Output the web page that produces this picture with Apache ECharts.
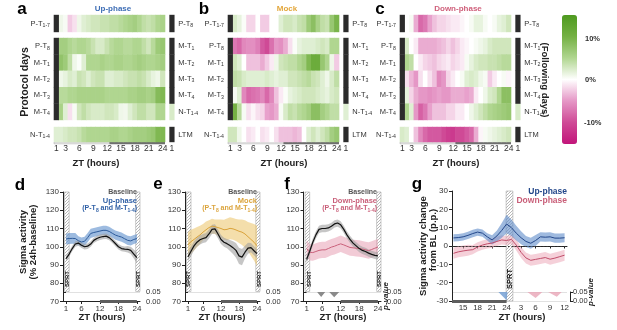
<!DOCTYPE html>
<html>
<head>
<meta charset="utf-8">
<script src="https://cdn.jsdelivr.net/npm/echarts@6.0.0/dist/echarts.min.js"></script>
<style>
  html, body { margin: 0; padding: 0; background: #fff; }
  #chart { width: 617px; height: 330px; }
</style>
</head>
<body>
<div id="chart"></div>
<script>
const FONT = '"Liberation Sans", Arial, sans-serif';

// ---------- heatmaps a-c : sigma change vs baseline (%) ----------
// null = SPRT hour (black cell)
const hmHours = ['1','2','3','4','5','6','7','8','9','10','11','12','13','14','15','16','17','18','19','20','21','22','23','24','','1'];
const hmTickIdx = [0, 2, 5, 8, 11, 14, 17, 20, 23, 25];
const rowLabels = ['P-T{s|1-7}', 'P-T{s|8}', 'M-T{s|1}', 'M-T{s|2}', 'M-T{s|3}', 'M-T{s|4}', 'N-T{s|1-4}'];
const nextLabels = ['P-T{s|8}', 'M-T{s|1}', 'M-T{s|2}', 'M-T{s|3}', 'M-T{s|4}', 'N-T{s|1-4}', 'LTM'];

const upPhase = [
  [null, 1, 0.5, -2.5, -1.5, 1, 2, 2.5, 3, 3, 3.5, 3.5, 4, 4, 4.5, 5, 5.5, 6, 5, 4, 3.5, 4, 5, 5.5],
  [null, 6, 6, 5, 4.5, 5, 5, 4.5, 3.5, 2.5, 2.5, 3.5, 4.5, 5, 5, 4.5, 4.5, 5, 5, 4, 3, 4.5, 6.5, 7],
  [null, 7.5, 6.5, 4, 1, 0.3, 2, 5, 5, 5, 5.5, 5, 5, 5.5, 5.5, 5, 5, 5.5, 6, 5.5, 5, 5, 5.5, 6],
  [null, 1, 1.5, 2.5, 2, 3.5, 3, 2, 3, 3.5, 3.5, 2, 2, 2.5, 2.5, 3, 3.5, 3.5, 4, 3.5, 2.5, 1.5, 1, 3],
  [null, 4.5, 4.5, 5, 5, 5.5, 5.5, 5.5, 5.5, 5.5, 5.5, 5, 5, 5, 5, 5, 5.5, 5.5, 6, 6, 5.5, 6, 8.5, 9],
  [null, 5.5, 2, -1.5, 0.5, 3, 4, 3, 2.5, 2.5, 2.5, 3, 3, 2.5, 1, 0.8, 2, 3, 4, 4, 3, 3, 5, 5],
  [2, 2, 2.5, 3, 3, 3.5, 4.5, 5, 5, 5, 5, 5, 5.5, 5.5, 5, 5, 5.5, 6, 6, 6, 6.5, 7, 9, 9]
];
const mockPhase = [
  [null, 2.5, 1.5, 0.3, -2, -2, 0, -2.5, -2.5, 0, 0, 2, 3, 3, 2.5, 3.5, 4, 6.5, 8, 5.5, 4, 3.5, 7, 9.5],
  [null, -7, -8, -6, -5.5, -5.5, -6.5, -9, -10, -7.5, -5, -5.5, -4, -1.5, 0.3, 1.5, 2, 2, 2, 2.5, 3, 2.5, 5, 5],
  [null, 3, 2, 0, -3, -3, -3, -4, -2.5, -1, 1, 3, 3.5, 4, 4, 5, 6, 9, 11, 11, 7, 5, 1, -2.5],
  [null, 4, 3.5, 2.5, 2, 2, 2, 2, 2.5, 2, 1.5, 2, 2, 3, 3, 3.5, 4, 4.5, 3.5, 3, 2, 1, 2.5, 4],
  [null, 0.5, 2, -6, -8, -7.5, -7, -6, -8, -6, -3, -1, 0.3, 1.5, 2, 2.5, 3, 3, 3, 2.5, 2, 1.5, 2.5, 3],
  [null, 10, 4.5, 0.5, -1.5, -0.5, -1.5, -2, -4.5, -5, -4, 0.5, 2.5, 4, 3.5, 4.5, 5, 6, 8, 8, 6, 5, 4, 4],
  [3, 3, 1, 0, -1.5, -1, 0, -1.5, -1, 0, -1.5, -3, -3, -3, -3.5, -3, 0, 2, 3, 2, 3, 4, 6, 7]
];
const downPhase = [
  [null, 0, 0.5, -4, -8, -7, -4.5, -3, -2, -2, -1.5, -1, -1, -0.5, 0, 0.5, 1.5, 1.5, 0.5, 0, 0.5, 1.5, 2, 3],
  [null, 2.5, 0, -1, -4, -4, -4, -4, -3.5, -3, -2, -3, -2, -1, -0.5, 0, 0.5, 1, 1.5, 2.5, 3, 3, 3, 3],
  [null, 5, 4, 0, -1, -2, -2.5, -3, -2, -1.5, -1, -2, -1.5, -1, 0.5, 1.5, 2.5, 3, 3, 3.5, 3.5, 4, 4.5, 4.5],
  [null, -1.5, -3.5, -5, -1.5, 0, -1.5, -3, -6, -5, -2, -1, 0, 0.5, 2, 2.5, 2, 1, 0.5, -2.5, -1, 0, 0.5, -0.5],
  [null, 1.5, -2, -4, -5, -5, -5.5, -5, -4.5, -5, -5, -4, -4, -4, -4.5, -4, -1, 0, 1, 2.5, 3, 5, 8, 8],
  [null, 5, 2, -5, -8.5, -7, -4.5, -3, -3, -3, -2, -2, -1, -1, 0, 1, 2, 3, 4, 5, 5.5, 6, 6.5, 7],
  [2.5, 2, 0, -3, -6, -8, -9, -9, -9, -10, -11, -11.5, -10, -10, -9, -8, -4, -0.5, 0.5, 1, 1.5, 2, 2.5, 3]
];
// hour 1 of the following day
const upNext = [null, null, null, null, null, 2.5, null];
const mockNext = [null, null, null, null, null, 2, null];
const downNext = [null, null, null, null, null, 2.5, null];

// ---------- line panels d-g ----------
const ztLine = [1, 2, 3, 4, 5, 6, 7, 8, 9, 10, 11, 12, 13, 14, 15, 16, 17, 18, 19, 20, 21, 22, 23, 24];
const baseD = [93.5, 96, 99, 101.5, 102, 100.8, 100, 100.3, 101.5, 103.5, 104.5, 105.2, 105.6, 105.8, 105, 103.5, 101.8, 100, 99, 98.7, 98.6, 98, 96, 94];
const baseDErr = [1.5, 1.5, 1.5, 1.5, 1.5, 1.5, 1.5, 1.5, 1.5, 1.5, 1.5, 1.5, 1.5, 1.5, 1.5, 1.5, 1.5, 1.5, 1.5, 1.5, 1.8, 2, 2.5, 3];
const upD = [104.3, 104.5, 104.6, 104.5, 103.3, 102.6, 103, 105, 107.3, 107.8, 108.2, 108.6, 109, 109, 108.4, 107.4, 106.4, 105.8, 105.3, 104.4, 103.5, 103.2, 104, 104.5];
const upDErr = [3, 3, 3, 3, 2.5, 2.5, 2.5, 2.5, 2.5, 2.5, 2.5, 2.5, 2.5, 2.5, 2.5, 2.5, 2.5, 2.5, 2.5, 2.5, 2.5, 2.5, 2.5, 2.5];

const baseE = [94.5, 97.5, 100.5, 102.5, 103.8, 104.5, 105, 107, 109.5, 109.8, 107, 104, 102.5, 101.7, 100.7, 99.5, 98, 95, 94.3, 97, 99.2, 99.5, 97.8, 96.2];
const baseEErr = [2.5, 2.5, 2.5, 2.5, 2.5, 2.5, 2.5, 2.5, 2.5, 2.5, 2.5, 2.5, 2.5, 2.5, 3, 3.5, 4, 4.5, 4.5, 3.5, 3, 2.5, 2.5, 2.5];
const mockE = [101, 102.8, 104, 105.3, 106.5, 108, 109.3, 110.5, 111.3, 111, 110.5, 110, 109.3, 109.5, 110.1, 109.8, 109.2, 108.5, 108, 107, 105.5, 104, 102.5, 100.5];
const mockEErr = [7, 6.5, 6, 5.5, 5, 4.5, 4.5, 4, 4, 4, 4.5, 5, 5.5, 6, 6, 6, 6, 6.5, 7, 7.5, 8, 9, 10, 11];

const baseF = [93, 97.5, 102.5, 106.5, 109.5, 110, 110, 110.3, 111.2, 112.5, 113, 112, 109.5, 106.5, 104, 102, 100.5, 99, 98, 97.4, 96.5, 95.8, 95.3, 95];
const baseFErr = [2, 2, 2, 2, 2, 2, 2, 2, 2, 2, 2, 2, 2, 2, 2, 2, 2, 2, 2, 2, 2, 2, 2, 2];
const downF = [99, 97, 96.8, 97.4, 98, 98.3, 98.3, 99, 99.8, 100.3, 101, 101.6, 101, 100.3, 99.6, 99.4, 99.2, 99, 98.7, 98.3, 97.9, 98.5, 99.2, 99.8];
const downFErr = [4.5, 4.5, 4.5, 4.5, 4.5, 4.5, 4.5, 4.5, 4.5, 4.5, 4.5, 4.5, 4.5, 4.5, 4.5, 4.5, 4.5, 4.5, 4.5, 4.5, 4.5, 4.5, 4.5, 4.5];
const pValueF = [[0, 0.05], [4.4, 0.05], [5.7, 0.024], [7, 0.05], [8.3, 0.05], [9.9, 0.022], [11.5, 0.05], [25, 0.05]];

// g: ZT 13..24 then next day 1..12 (plotted as 25..36)
const ztG = [13, 14, 15, 16, 17, 18, 19, 20, 21, 22, 23, 24, 25, 26, 27, 28, 29, 30, 31, 32, 33, 34, 35, 36];
const upG = [4.4, 4.6, 5, 5.8, 6.8, 7.6, 7, 5, 3.3, 5.5, 8.5, 12, 10, 7, 4.5, 2.5, 1.5, 3, 5, 4.8, 5, 4.3, 4.3, 4.5];
const upGErr = [2, 2, 2, 2, 2, 2, 2, 2, 2.5, 3, 4, 5, 4.5, 4, 3.5, 3, 3, 3, 2.5, 2.5, 2.5, 2.5, 2.5, 2.5];
const downG = [-4, -3.2, -2.7, -2.3, -2, -0.5, 0.5, 1.2, 1.6, 2.5, 3.3, 3, 3.6, 0.5, -3.5, -6.5, -7.8, -7.3, -6.8, -6.3, -7.2, -6.6, -5.8, -5];
const downGErr = [3, 3, 3, 3, 2.5, 2.5, 2.5, 2.5, 2.5, 2.5, 2.5, 2.5, 2.5, 3, 3, 3, 3, 3, 3, 3, 3, 3, 3, 3];
const pValueGUp = [[12.5, 0.05], [22.3, 0.05], [24, 0.004], [24.2, 0.05], [36.5, 0.05]];
const pValueGDown = [[12.5, 0.05], [28.3, 0.05], [30, 0.017], [31.4, 0.05], [32.6, 0.05], [34.4, 0.024], [35.4, 0.05], [36.5, 0.05]];

// ---------- build ----------
const chart = echarts.init(document.getElementById('chart'));
const grids = [], xAxes = [], yAxes = [], series = [], graphics = [];
const subRich = { s: { fontSize: 5.2, padding: [4, 0, 0, 0], color: '#333', fontFamily: FONT } };

// hatch pattern for SPRT bars
const hatch = document.createElement('canvas');
hatch.width = 3; hatch.height = 3;
const hc = hatch.getContext('2d');
hc.fillStyle = '#fff'; hc.fillRect(0, 0, 3, 3);
hc.strokeStyle = '#9a9a9a'; hc.lineWidth = 0.7;
hc.beginPath(); hc.moveTo(0, 3); hc.lineTo(3, 0); hc.stroke();
const hatchFill = { image: hatch, repeat: 'repeat' };

function addGrid(g) {
  grids.push(Object.assign({ containLabel: false, outerBoundsMode: 'none' }, g));
  return grids.length - 1;
}

// heatmap cells drawn as slightly overlapping rects (no seams between columns)
function cellSeries(xi, yi, data, fixedColor) {
  return {
    type: 'custom', xAxisIndex: xi, yAxisIndex: yi, data, silent: true,
    encode: { x: 0, y: 1 },
    renderItem: (params, api) => {
      const c = api.coord([api.value(0), api.value(1)]);
      const s = api.size([1, 1]);
      return {
        type: 'rect',
        shape: { x: c[0] - s[0] / 2 - 0.3, y: c[1] - s[1] / 2 - 0.2, width: s[0] + 0.6, height: s[1] + 0.4 },
        style: { fill: fixedColor || api.visual('color') }
      };
    }
  };
}

// confidence band as a polygon through upper and lower points
function bandSeries(xi, yi, xs, lo, hi, color, z) {
  const data = xs.map((x, i) => [x, lo[i], hi[i]]);
  return {
    type: 'custom', xAxisIndex: xi, yAxisIndex: yi, data, silent: true, z,
    encode: { x: 0, y: [1, 2] },
    renderItem: (params, api) => {
      if (params.dataIndex !== 0) return null;
      const top = data.map(d => api.coord([d[0], d[2]]));
      const bot = data.map(d => api.coord([d[0], d[1]])).reverse();
      return { type: 'polygon', shape: { points: top.concat(bot) }, style: { fill: color } };
    }
  };
}

const colW = 4.625;
const panelX = [54, 228, 400];
const blocks = [
  { rows: [0], top: 15, h: 17 },
  { rows: [1, 2, 3, 4, 5], top: 38, h: 82 },
  { rows: [6], top: 127, h: 15 }
];
const heatSets = [upPhase, mockPhase, downPhase];
const nextSets = [upNext, mockNext, downNext];
const valueSeries = [];

heatSets.forEach((rows, p) => {
  blocks.forEach((blk, b) => {
    const gi = addGrid({ left: panelX[p], top: blk.top, width: 26 * colW, height: blk.h });
    const xi = xAxes.length;
    xAxes.push({
      type: 'category', gridIndex: gi, data: hmHours,
      axisLine: { show: false }, axisTick: { show: false }, splitLine: { show: false },
      axisLabel: {
        show: b === 2, interval: (i) => hmTickIdx.includes(i),
        fontSize: 8.5, color: '#333', margin: 2, fontFamily: FONT
      }
    });
    const yi = yAxes.length;
    const yCommon = {
      type: 'category', gridIndex: gi, inverse: true,
      axisLine: { show: false }, axisTick: { show: false }, splitLine: { show: false }
    };
    yAxes.push(Object.assign({}, yCommon, {
      data: blk.rows.map(r => rowLabels[r]),
      axisLabel: { fontSize: 7.5, color: '#333', margin: 4, fontFamily: FONT, rich: subRich }
    }));
    yAxes.push(Object.assign({}, yCommon, {
      position: 'right', data: blk.rows.map(r => nextLabels[r]),
      axisLabel: { fontSize: 7.5, color: '#333', margin: 4, fontFamily: FONT, rich: subRich }
    }));
    const vals = [], blacks = [];
    blk.rows.forEach((r, k) => {
      rows[r].forEach((v, c) => {
        if (v === null) blacks.push([c, k, 0]); else vals.push([c, k, v]);
      });
      const nv = nextSets[p][r];
      if (nv === null) blacks.push([25, k, 0]); else vals.push([25, k, nv]);
    });
    valueSeries.push(series.length);
    series.push(cellSeries(xi, yi, vals));
    series.push(cellSeries(xi, yi, blacks, '#2b2b2b'));
  });
  // light / dark bar under the heatmap
  const x0 = panelX[p];
  graphics.push({ type: 'rect', silent: true, shape: { x: x0, y: 142.2, width: 12 * colW, height: 1.6 }, style: { fill: '#f7f7f7', stroke: '#9a9a9a', lineWidth: 0.5 } });
  graphics.push({ type: 'rect', silent: true, shape: { x: x0 + 12 * colW, y: 141.6, width: 12 * colW, height: 2.6 }, style: { fill: '#6e6e6e' } });
});

function pairs(xs, ys) { return xs.map((x, i) => [x, ys[i]]); }

function linePanel(cfg) {
  const gi = addGrid({ left: cfg.left, top: cfg.top, width: cfg.width, height: cfg.height });
  const xi = xAxes.length;
  xAxes.push({
    type: 'value', gridIndex: gi, min: cfg.xmin, max: cfg.xmax,
    axisLine: { lineStyle: { color: '#222', width: 1 } },
    axisTick: { customValues: cfg.ticks, length: 2.5, lineStyle: { color: '#222' } },
    axisLabel: { customValues: cfg.ticks, formatter: cfg.fmt, fontSize: 8, color: '#333', margin: 3, fontFamily: FONT },
    splitLine: { show: false }
  });
  const yi = yAxes.length;
  yAxes.push({
    type: 'value', gridIndex: gi, min: cfg.ymin, max: cfg.ymax, interval: 10,
    axisLine: { show: true, lineStyle: { color: '#222', width: 1 } },
    axisTick: { show: true, length: 3, lineStyle: { color: '#222' } },
    axisLabel: { fontSize: 8, color: '#333', margin: 4, fontFamily: FONT },
    splitLine: { show: false }
  });
  cfg.traces.forEach((t, k) => {
    series.push(bandSeries(xi, yi, cfg.x, t.y.map((v, i) => v - t.err[i]), t.y.map((v, i) => v + t.err[i]), t.band, 1 + k * 0.1));
  });
  cfg.traces.forEach((t, k) => {
    const s = {
      type: 'line', xAxisIndex: xi, yAxisIndex: yi, symbol: 'none', silent: true, z: 3 + k,
      lineStyle: { color: t.line, width: t.width || 1 }, data: pairs(cfg.x, t.y)
    };
    if (k === cfg.traces.length - 1) {
      s.markArea = {
        silent: true, itemStyle: { color: hatchFill, borderColor: '#a8a8a8', borderWidth: 0.6 },
        data: cfg.hatch.map(h => [{ xAxis: h[0], yAxis: cfg.hatchY[0] }, { xAxis: h[1], yAxis: cfg.hatchY[1] }])
      };
      if (cfg.zeroLine) {
        s.markLine = {
          silent: true, symbol: ['none', 'none'], label: { show: false },
          lineStyle: { color: '#333', width: 1, type: [1.5, 2] }, data: [{ yAxis: 0 }]
        };
      }
    }
    series.push(s);
  });
  // p-value strip
  const pg = addGrid({ left: cfg.left, top: cfg.pTop, width: cfg.width, height: cfg.height + cfg.top - cfg.pTop });
  const pxi = xAxes.length;
  xAxes.push({ type: 'value', gridIndex: pg, min: cfg.xmin, max: cfg.xmax, show: false });
  const pyi = yAxes.length;
  yAxes.push({
    type: 'value', gridIndex: pg, min: 0, max: 0.05, interval: 0.05, position: 'right', offset: 3,
    axisLine: { show: true, lineStyle: { color: '#222', width: 1 } },
    axisTick: { show: true, length: 3, lineStyle: { color: '#222' } },
    axisLabel: { fontSize: 7.5, color: '#333', margin: 3, fontFamily: FONT, formatter: v => v.toFixed(2) },
    splitLine: { show: true, lineStyle: { color: '#d9d9d9', width: 0.8 } }
  });
  const pv = cfg.pv.length ? cfg.pv : [{ data: [[cfg.xmin, 0.05], [cfg.xmax, 0.05]], color: '#999' }];
  pv.forEach((p, k) => {
    const s = {
      type: 'line', xAxisIndex: pxi, yAxisIndex: pyi, symbol: 'none', silent: true,
      lineStyle: { width: 0, opacity: 0 }, areaStyle: { origin: 'end', color: p.color, opacity: 1 }, data: p.data
    };
    if (k === 0) {
      s.markLine = {
        silent: true, symbol: ['none', 'none'], label: { show: false },
        lineStyle: { color: '#5e5e5e', width: 3, type: 'solid' },
        data: [[{ coord: [cfg.dark[0], 0] }, { coord: [cfg.dark[1], 0] }]]
      };
    }
    series.push(s);
  });
}

const base = (y, err) => ({ y, err, line: '#111', band: 'rgba(160,160,160,0.6)', width: 1.2 });
const dayTicks = [1, 6, 12, 18, 24];
linePanel({
  left: 63, width: 77, top: 192, height: 109.5, pTop: 292, xmin: 0, xmax: 25, ymin: 70, ymax: 130,
  ticks: dayTicks, x: ztLine, hatch: [[0.5, 2], [23.6, 25]], hatchY: [75.5, 130], dark: [12, 24],
  traces: [{ y: upD, err: upDErr, line: '#2c5a9a', band: 'rgba(105,150,208,0.65)' }, base(baseD, baseDErr)], pv: []
});
linePanel({
  left: 185, width: 75, top: 192, height: 109.5, pTop: 292, xmin: 0, xmax: 25, ymin: 70, ymax: 130,
  ticks: dayTicks, x: ztLine, hatch: [[0.5, 2], [23.6, 25]], hatchY: [75.5, 130], dark: [12, 24],
  traces: [{ y: mockE, err: mockEErr, line: '#d9a23a', band: 'rgba(236,200,115,0.6)' }, base(baseE, baseEErr)], pv: []
});
linePanel({
  left: 303.5, width: 77.5, top: 192, height: 109.5, pTop: 292, xmin: 0, xmax: 25, ymin: 70, ymax: 130,
  ticks: dayTicks, x: ztLine, hatch: [[0.5, 2], [23.6, 25]], hatchY: [75.5, 130], dark: [12, 24],
  traces: [{ y: downF, err: downFErr, line: '#c9607a', band: 'rgba(232,160,180,0.55)' }, base(baseF, baseFErr)],
  pv: [{ data: pValueF, color: '#8a8a8a' }]
});
linePanel({
  left: 452, width: 115, top: 191, height: 110, pTop: 292, xmin: 12.7, xmax: 36.5, ymin: -30, ymax: 30,
  ticks: [15, 18, 21, 24, 27, 30, 33, 36], fmt: v => String(v > 24 ? v - 24 : v),
  x: ztG, hatch: [[23.9, 25.3]], hatchY: [-30, 30], dark: [12.7, 24], zeroLine: true,
  traces: [
    { y: downG, err: downGErr, line: '#c04c69', band: 'rgba(236,170,186,0.55)' },
    { y: upG, err: upGErr, line: '#23478a', band: 'rgba(95,140,202,0.6)' }
  ],
  pv: [{ data: pValueGUp, color: 'rgba(110,155,210,0.8)' }, { data: pValueGDown, color: 'rgba(232,165,182,0.8)' }]
});

// ---------- texts ----------
function txt(x, y, text, o) {
  o = o || {};
  return {
    type: 'text', x, y, rotation: o.rot || 0, silent: true, z: 20,
    style: {
      text, fill: o.color || '#222', fontSize: o.size || 9, fontWeight: o.weight || 'bold',
      fontStyle: o.style || 'normal', fontFamily: FONT,
      align: o.align || 'center', verticalAlign: 'middle', rich: o.rich
    }
  };
}
const subOf = (color, size) => ({ s: { fontSize: size, padding: [4, 0, 0, 0], fill: color, fontWeight: 'bold', fontFamily: FONT } });
const R = Math.PI / 2;
[['a', 22, 9], ['b', 204, 9], ['c', 380, 9], ['d', 20, 185], ['e', 158, 184], ['f', 287, 184], ['g', 417, 184]]
  .forEach(l => graphics.push(txt(l[1], l[2], l[0], { size: 17, color: '#000' })));
graphics.push(txt(113, 8.5, 'Up-phase', { size: 8, color: '#3d6db5' }));
graphics.push(txt(287, 8.5, 'Mock', { size: 8, color: '#e3a73c' }));
graphics.push(txt(458, 8.5, 'Down-phase', { size: 8, color: '#cf5f7a' }));
graphics.push(txt(25, 82, 'Protocol days', { size: 10.5, rot: R }));
graphics.push(txt(545, 80, '(Following days)', { size: 9.5, rot: -R }));
graphics.push(txt(585, 39, '10%', { size: 7.5, align: 'left', color: '#333' }));
graphics.push(txt(585, 80, '0%', { size: 7.5, align: 'left', color: '#333' }));
graphics.push(txt(584, 123, '-10%', { size: 7.5, align: 'left', color: '#333' }));
[[96, 163.5], [284, 163.5], [456, 163.5], [102, 317], [222, 317], [343, 317], [522, 317]]
  .forEach(p => graphics.push(txt(p[0], p[1], 'ZT (hours)', { size: 9.5 })));
graphics.push(txt(23, 242, 'Sigma activity', { size: 9.5, rot: R }));
graphics.push(txt(33, 242, '(% 24h-baseline)', { size: 9.5, rot: R }));
graphics.push(txt(423, 246, 'Sigma activity change', { size: 9.5, rot: R }));
graphics.push(txt(433, 240, 'from BL (p.p.)', { size: 9.5, rot: R }));
[[67, 279], [138, 279], [188, 279], [259, 279], [309, 279], [379.5, 279]]
  .forEach(p => graphics.push(txt(p[0], p[1], 'SPRT', { size: 6, rot: R, color: '#111' })));
graphics.push(txt(509.5, 279, 'SPRT', { size: 7.5, rot: R, color: '#111' }));
graphics.push(txt(385.5, 296, 'p-value', { size: 8, rot: R, style: 'italic' }));
graphics.push(txt(591, 292, 'p-value', { size: 8, rot: R, style: 'italic' }));
// legends
const legends = [
  [137, 'Up-phase', '#2f5fa5'], [257, 'Mock', '#dba43c'], [377, 'Down-phase', '#c95f79']
];
legends.forEach(l => {
  graphics.push(txt(l[0], 192.5, 'Baseline', { size: 7, align: 'right', color: '#555' }));
  graphics.push(txt(l[0], 201, l[1], { size: 7.5, align: 'right', color: l[2] }));
  graphics.push(txt(l[0], 208.5, '(P-T{s|8} and M-T{s|1-4})', { size: 7, align: 'right', color: l[2], rich: subOf(l[2], 5) }));
});
graphics.push(txt(567, 191.5, 'Up-phase', { size: 8.5, align: 'right', color: '#23478a' }));
graphics.push(txt(567, 200.5, 'Down-phase', { size: 8.5, align: 'right', color: '#c95f79' }));

chart.setOption({
  animation: false,
  textStyle: { fontFamily: FONT },
  grid: grids,
  xAxis: xAxes,
  yAxis: yAxes,
  visualMap: [{
    type: 'continuous', min: -15, max: 15, dimension: 2, seriesIndex: valueSeries, calculable: false, hoverLink: false,
    orient: 'vertical', left: 562, top: 15, itemWidth: 15, itemHeight: 129, padding: 0,
    inRange: { color: ['#c2157a', '#cf4a96', '#e597c6', '#ffffff', '#b0d690', '#74b043', '#4e9a1f'] }
  }],
  series,
  graphic: graphics
});
</script>
</body>
</html>
